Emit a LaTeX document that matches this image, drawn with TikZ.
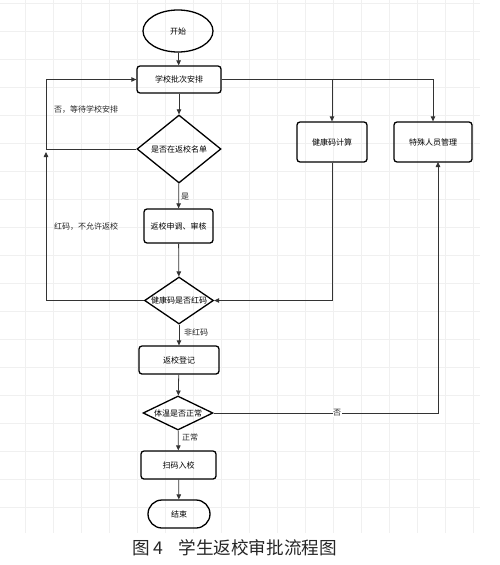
\documentclass[tikz,border=0pt]{standalone}
\usepackage{fontspec}
\setmainfont{Noto Sans CJK SC}
\usetikzlibrary{shapes.geometric,arrows.meta}
\begin{document}
\begin{tikzpicture}[x=1pt,y=-1pt,
  font=\fontsize{8pt}{9pt}\selectfont,
  box/.style={draw=black,line width=1.3pt,rounded corners=3pt,inner sep=0pt},
  dia/.style={draw=black,line width=1.3pt,diamond,inner sep=0pt},
  arr/.style={draw=black!80,line width=0.8pt,-{Triangle[length=5pt,width=4.5pt]}},
  ln/.style={draw=black!80,line width=0.8pt},
  lbl/.style={inner sep=1pt,text=black!85}]
\useasboundingbox (0,0) rectangle (500,565);
\fill[white] (0,0) rectangle (500,565);
% faint grid
\foreach \gx in {-3,25,...,473} \draw[black!6,line width=0.5pt] (\gx,0) -- (\gx,533);
\foreach \gy in {3,31,...,533} \draw[black!6,line width=0.5pt] (0,\gy) -- (480,\gy);

% nodes
\node[draw=black,line width=1.3pt,ellipse,minimum width=70pt,minimum height=42pt,inner sep=0pt] (start) at (178,31) {开始};
\node[box,minimum width=84pt,minimum height=27pt] (b1) at (179,79.5) {学校批次安排};
\node[dia,minimum width=84pt,minimum height=68pt,label={center:是否在返校名单}] (d1) at (179,149) {};
\node[box,minimum width=69pt,minimum height=34pt] (b2) at (178.5,226) {返校申调、审核};
\node[dia,minimum width=69pt,minimum height=47pt,label={center:健康码是否红码}] (d2) at (179,300.5) {};
\node[box,minimum width=80pt,minimum height=28pt] (b3) at (179,360) {返校登记};
\node[dia,minimum width=70pt,minimum height=34pt,label={center:体温是否正常}] (d3) at (178,413) {};
\node[box,minimum width=75pt,minimum height=28pt] (b4) at (178.5,465) {扫码入校};
\node[draw=black,line width=1.3pt,rounded corners=14pt,minimum width=62pt,minimum height=28pt,inner sep=0pt] (end) at (179,514) {结束};
\node[box,minimum width=70pt,minimum height=40pt] (b5) at (332,142) {健康码计算};
\node[box,minimum width=78pt,minimum height=40pt] (b6) at (433,142) {特殊人员管理};

\coordinate (cl1) at (46,149);
\coordinate (cl2) at (46,152);
\coordinate (cr) at (438,162);

% connectors
\draw[arr] (start) -- (b1);
\draw[arr] (b1) -- (d1);
\draw[arr] (d1.west) -- (cl1) |- (b1.west);
\draw[arr] (d1) -- (b2);
\draw[arr] (b2) -- (d2);
\draw[arr] (d2.west) -| (cl2);
\draw[arr] (d2) -- (b3);
\draw[arr] (b3) -- (d3);
\draw[arr] (d3) -- (b4);
\draw[arr] (b4) -- (end);
\draw[arr] (b1.east) -| (b5.north);
\draw[arr] (b1.east) -| (b6.north);
\draw[arr] (b5.south) |- (d2.east);
\draw[arr] (d3.east) -| (cr);

% labels
\node[lbl,anchor=west] (t1) at (53,110) {否，等待学校安排};
\node[lbl,anchor=west] (t2) at (53,227) {红码，不允许返校};
\node[lbl,anchor=west] (t3) at (180,197) {是};
\node[lbl,anchor=west] (t4) at (183,332) {非红码};
\node[lbl,anchor=west] (t5) at (181,437) {正常};
\node[lbl,fill=white,inner sep=0.5pt] (t6) at (337,413) {否};

\node[anchor=west,font=\fontsize{17.6pt}{19pt}\selectfont,text=black!85,inner sep=0pt] (cap) at (132,548) {图 4\hspace{15pt}学生返校审批流程图};
\end{tikzpicture}
\end{document}
